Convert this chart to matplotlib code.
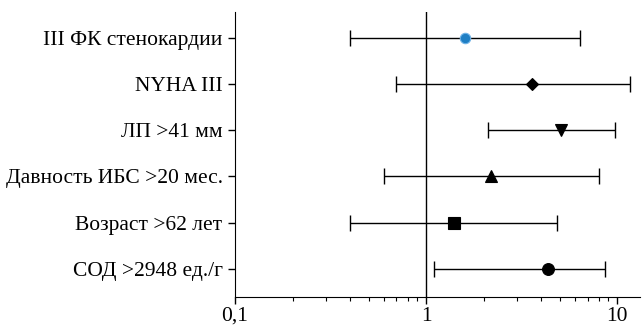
import numpy as np
import matplotlib.pyplot as plt
from matplotlib.ticker import LogLocator, NullFormatter

plt.rcParams['font.family'] = ['Liberation Serif', 'DejaVu Serif']

labels = ["III ФК стенокардии", "NYHA III", "ЛП >41 мм",
          "Давность ИБС >20 мес.", "Возраст >62 лет", "СОД >2948 ед./г"]
odds = [1.6, 3.6, 5.1, 2.2, 1.4, 4.35]
lower = [0.4, 0.7, 2.1, 0.6, 0.4, 1.1]
upper = [6.4, 11.7, 9.7, 8.0, 4.85, 8.65]
markers = ["o", "D", "v", "^", "s", "o"]
colors = ["#1f7fc4", "black", "black", "black", "black", "black"]
sizes = [7.5, 6.5, 8, 8, 8.5, 8.5]

fig = plt.figure(figsize=(6.44, 3.28), dpi=100)
ax = fig.add_axes([0.365, 0.095, 0.629, 0.868])

ypos = np.arange(len(labels), 0, -1)
for i in range(len(labels)):
    y = ypos[i]
    ax.errorbar(odds[i], y, xerr=[[odds[i] - lower[i]], [upper[i] - odds[i]]],
                fmt='none', ecolor='black', elinewidth=1, capsize=5.5,
                capthick=1, zorder=2)
    ec = '#6fb3e8' if i == 0 else 'black'
    ax.plot(odds[i], y, marker=markers[i], color=colors[i], markersize=sizes[i],
            markeredgecolor=ec, markeredgewidth=0.8, linestyle='none', zorder=3)

ax.axvline(1, color='black', linewidth=1, zorder=1)

ax.set_xscale('log')
ax.set_xlim(0.1, 13.2)
ax.set_ylim(0.4, 6.55)
ax.set_xticks([0.1, 1, 10])
ax.set_xticklabels(["0,1", "1", "10"])
ax.xaxis.set_minor_locator(LogLocator(base=10, subs=np.arange(2, 10)))
ax.xaxis.set_minor_formatter(NullFormatter())
ax.set_yticks(ypos)
ax.set_yticklabels(labels)

ax.spines['top'].set_visible(False)
ax.spines['right'].set_visible(False)
ax.tick_params(axis='both', which='major', labelsize=15.5, length=5, width=1,
               direction='out', colors='black')
ax.tick_params(axis='x', which='minor', length=3, width=0.8)
ax.tick_params(axis='x', pad=2)
ax.tick_params(axis='y', pad=4)

plt.savefig("out.png", dpi=100)
